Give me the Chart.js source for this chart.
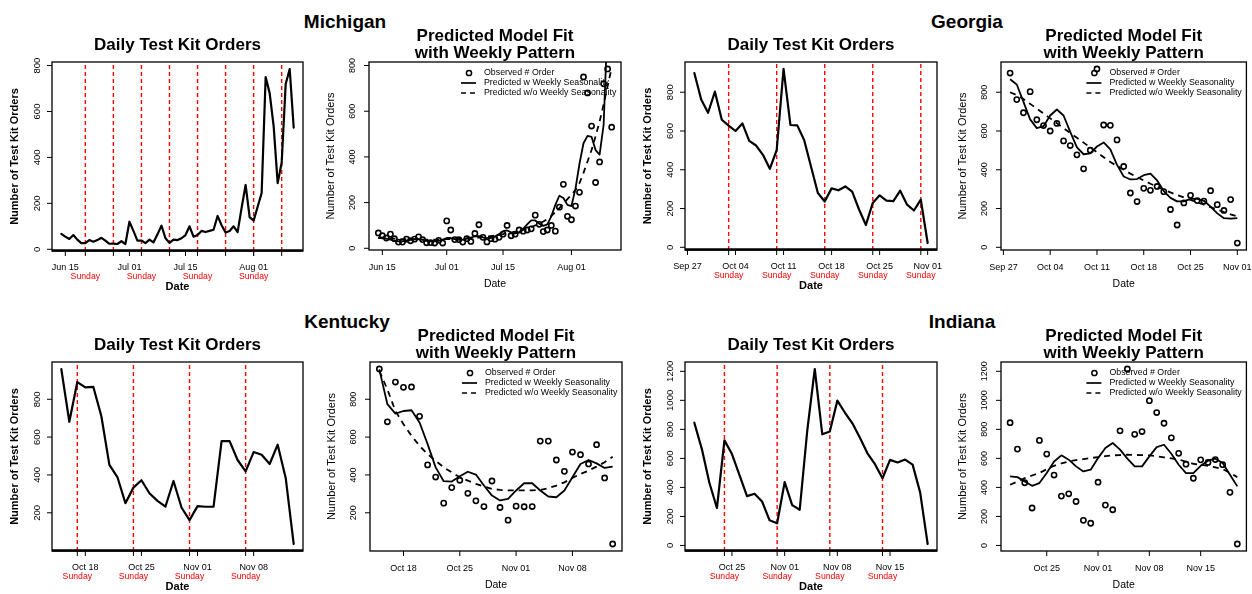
<!DOCTYPE html>
<html><head><meta charset="utf-8">
<script src="https://cdn.jsdelivr.net/npm/chart.js@4"></script>
<style>
html,body{margin:0;padding:0;background:#fff;width:1252px;height:594px;overflow:hidden;position:relative;}
canvas{position:absolute;left:0;top:0;}
.state{position:absolute;font:bold 19px "Liberation Sans",Arial,sans-serif;line-height:19px;color:#000;transform:translateX(-50%);white-space:nowrap;}
</style></head><body>
<div class="state" style="left:345px;top:12px">Michigan</div>
<div class="state" style="left:967px;top:12px">Georgia</div>
<div class="state" style="left:347px;top:312px">Kentucky</div>
<div class="state" style="left:962px;top:312px">Indiana</div>
<canvas id="p1" width="1252" height="594"></canvas>
<canvas id="p2" width="1252" height="594"></canvas>
<canvas id="p3" width="1252" height="594"></canvas>
<canvas id="p4" width="1252" height="594"></canvas>
<canvas id="p5" width="1252" height="594"></canvas>
<canvas id="p6" width="1252" height="594"></canvas>
<canvas id="p7" width="1252" height="594"></canvas>
<canvas id="p8" width="1252" height="594"></canvas>
<script>
// ---------------- DATA ----------------
// Michigan: daily values from 2021-06-14 to 2021-08-11
const miStart = '2021-06-14';
const miObserved = [67,55,45,62,42,27,27,40,33,40, 50,38,24,25,23,35,23,120,80,38, 38,27,42,30,65,103,48,28,42,40, 48,62,100,55,62,80,75,80,85,145, 105,73,80,100,75,180,280,140,125,185, 245,750,680,535,288,378,720,785,530];
const miPredWeekly = [45,48,42,38,33,30,30,33,37,40,40,37,32,30,30,33,38, 45,45,40,37,38,42,47,52,53,48,44,45,52,62,75,78,70,65,70,85,105,122,122,108,98,105,140,190,230,220,190, 185,260,370,460,492,488,430,410,540,1000,1150];
const miPredNoWeekly = [45,45,44,43,42,41,40,40,40,39,39,39,38,38,38,38,39, 40,40,41,42,43,44,45,46,47,49,51,53,56,59,62,66,68,72,76,81,86,93,100,108,117,128,142,158,176,195,215, 235,255,285,330,380,430,490,555,630,710,790];
const miTickDates = ['2021-06-15','2021-07-01','2021-07-15','2021-08-01'];
const miTickLabels = ['Jun 15','Jul 01','Jul 15','Aug 01'];
const miSundays = ['2021-06-20','2021-06-27','2021-07-04','2021-07-11','2021-07-18','2021-07-25','2021-08-01','2021-08-08'];
const miYTicks = [0,200,400,600,800];

// Georgia: 2021-09-28 to 2021-11-01
const gaStart = '2021-09-28';
const gaObserved = [899,762,694,803,658,628,600,639,549,525, 477,405,501,920,631,629,554,417,280,236, 304,294,314,287,195,115,229,268,241,238, 292,220,190,246,22];
const gaPredWeekly = [867,840,750,660,615,625,680,711,680,595, 515,480,485,520,541,505,425,365,350,352, 372,380,345,290,255,237,237,250,250,240, 210,175,150,148,150];
const gaPredNoWeekly = [800,785,765,740,715,690,665,640,615,590, 565,540,515,490,465,440,420,400,380,362, 345,328,312,297,283,270,257,245,232,220, 207,195,182,170,160];
const gaTickDates = ['2021-09-27','2021-10-04','2021-10-11','2021-10-18','2021-10-25','2021-11-01'];
const gaTickLabels = ['Sep 27','Oct 04','Oct 11','Oct 18','Oct 25','Nov 01'];
const gaSundays = ['2021-10-03','2021-10-10','2021-10-17','2021-10-24','2021-10-31'];
const gaYTicks = [0,200,400,600,800];

// Kentucky: 2021-10-15 to 2021-11-13
const kyStart = '2021-10-15';
const kyObserved = [960,681,891,863,865,710,453,389,251,333, 372,303,263,233,368,228,161,235,232,233, 579,579,479,419,521,507,458,560,384,35];
const kyPredWeekly = [958,774,724,738,742,677,563,440,367,365, 393,417,402,344,291,265,274,318,356,356, 318,286,282,318,388,458,479,461,437,444];
const kyPredNoWeekly = [950,852,738,668,607,554,510,475,440,414, 388,370,353,339,326,321,318,318,318,318, 321,330,344,361,384,405,423,444,467,496];
const kyTickDates = ['2021-10-18','2021-10-25','2021-11-01','2021-11-08'];
const kyTickLabels = ['Oct 18','Oct 25','Nov 01','Nov 08'];
const kySundays = ['2021-10-17','2021-10-24','2021-10-31','2021-11-07'];
const kyYTicks = [200,400,600,800];

// Indiana: 2021-10-20 to 2021-11-20
const inStart = '2021-10-20';
const inObserved = [846,664,432,258,724,630,485,340,356,303, 173,153,436,278,246,790,1216,766,785,998, 916,842,742,635,560,463,590,572,592,557, 366,10];
const inPredWeekly = [476,471,441,411,430,499,579,621,591,545, 510,522,602,671,706,660,598,545,545,614, 678,694,632,556,499,499,549,584,598,568, 487,407];
const inPredNoWeekly = [418,440,464,482,499,525,549,565,579,588, 595,602,609,615,621,623,625,624,622,621, 614,607,600,591,577,563,556,549,538,526, 500,471];
const inTickDates = ['2021-10-25','2021-11-01','2021-11-08','2021-11-15'];
const inTickLabels = ['Oct 25','Nov 01','Nov 08','Nov 15'];
const inSundays = ['2021-10-24','2021-10-31','2021-11-07','2021-11-14'];
const inYTicks = [0,200,400,600,800,1000,1200];

const legendLabels = ['Observed # Order','Predicted w Weekly Seasonality','Predicted w/o Weekly Seasonality'];
const dailyTitle = 'Daily Test Kit Orders';
const fitTitle = ['Predicted Model Fit','with Weekly Pattern'];
const yTitle = 'Number of Test Kit Orders';
const xTitle = 'Date';
const sundayLabel = 'Sunday';

// ---------------- HELPERS ----------------
const DAY = 86400000;
const FONT = '"Liberation Sans", Arial, Helvetica, sans-serif';
function dnum(s){ const p=s.split('-').map(Number); return Date.UTC(p[0],p[1]-1,p[2])/DAY; }
function series(start, vals){ const s=dnum(start); return vals.map((v,i)=>({x:s+i,y:v})); }

function decor(o){
  return {
    id:'decor',
    afterDatasetsDraw(chart){
      const c=chart.ctx, a=chart.chartArea, xs=chart.scales.x, ys=chart.scales.y;
      const L=a.left, R=a.right, T=a.top, B=a.bottom, cx=(L+R)/2, cy=(T+B)/2;
      const daily = o.kind==='daily';
      const seg=(x1,y1,x2,y2)=>{c.beginPath();c.moveTo(x1,y1);c.lineTo(x2,y2);c.stroke();};
      c.save();
      c.fillStyle='#000'; c.strokeStyle='#000'; c.setLineDash([]);
      // box
      c.lineWidth=1.3; c.strokeRect(L,T,R-L,B-T);
      if(daily){ c.lineWidth=2.5; seg(L,B-0.5,R,B-0.5); }
      // y ticks
      c.lineWidth=1;
      o.yTicks.forEach(v=>{
        const py=ys.getPixelForValue(v);
        seg(L-5,py,L,py);
        c.save(); c.translate(L-(daily?15:16), py); c.rotate(-Math.PI/2);
        c.font=(daily?'9.5px ':'9px ')+FONT; c.textAlign='center'; c.textBaseline='middle';
        c.fillText(String(v),0,0); c.restore();
      });
      // x ticks with date labels
      c.font='9px '+FONT; c.textAlign='center'; c.textBaseline='alphabetic';
      o.tickDates.forEach((d,i)=>{
        const px=xs.getPixelForValue(dnum(d));
        seg(px,B,px,B+5);
        c.fillText(o.tickLabels[i],px,B+(daily?19:20));
      });
      // Sunday ticks & labels
      if(daily){
        c.font='8.7px '+FONT; c.fillStyle='#ff0000';
        let lastRight=-1e9;
        o.sundays.forEach(d=>{
          const px=xs.getPixelForValue(dnum(d));
          c.strokeStyle='#000'; seg(px,B,px,B+5);
          const w=c.measureText(sundayLabel).width;
          if(px-w/2 >= lastRight+7){ c.fillText(sundayLabel,px,B+28); lastRight=px+w/2; }
        });
        c.fillStyle='#000';
      }
      // axis titles
      c.font=(daily?'bold 11px ':'10.5px ')+FONT; c.textAlign='center';
      c.fillText(xTitle,cx,B+(daily?39:37));
      c.save(); c.translate(L-(daily?37:38),cy); c.rotate(-Math.PI/2);
      c.font=(daily?'bold 11px ':'11px ')+FONT; c.textBaseline='middle';
      c.fillText(yTitle,0,0); c.restore();
      // panel title
      c.font='bold 17px '+FONT; c.textAlign='center'; c.textBaseline='alphabetic';
      if(daily){ c.fillText(dailyTitle,cx,T-12); }
      else { c.fillText(fitTitle[0],cx,T-21); c.fillText(fitTitle[1],cx,T-4); }
      // legend
      if(!daily){
        const sx=R-152, tx=R-137, r0=T+11, r1=T+21, r2=T+31;
        c.lineWidth=1.5; c.beginPath(); c.arc(sx,r0,2.6,0,Math.PI*2); c.stroke();
        c.lineWidth=1.7; seg(R-160,r1,R-145,r1);
        c.setLineDash([5,4]); seg(R-160,r2,R-145,r2); c.setLineDash([]);
        c.font='8.8px '+FONT; c.textAlign='left'; c.textBaseline='middle';
        c.fillText(legendLabels[0],tx,r0); c.fillText(legendLabels[1],tx,r1); c.fillText(legendLabels[2],tx,r2);
      }
      c.restore();
    }
  };
}

function panel(id, o){
  const W=1252, H=594;
  const x0=dnum(o.start), x1=x0+o.observed.length-1, xe=(x1-x0)*0.04;
  const mn=Math.min(...o.observed), mx=Math.max(...o.observed), ye=(mx-mn)*0.04;
  const ymin=mn-ye, ymax=mx+ye;
  const ds=[];
  if(o.kind==='daily'){
    ds.push({data:series(o.start,o.observed), showLine:true, borderColor:'#000', borderWidth:2.2,
      pointRadius:0, tension:0, borderJoinStyle:'round', borderCapStyle:'round'});
    o.sundays.forEach(s=>ds.push({data:[{x:dnum(s),y:ymin},{x:dnum(s),y:ymax}], showLine:true,
      borderColor:'#ff0000', borderWidth:1.4, borderDash:[4,3], pointRadius:0}));
  } else {
    ds.push({data:series(o.start,o.observed), showLine:false, pointStyle:'circle', pointRadius:2.6,
      pointBorderWidth:1.6, borderColor:'#000', pointBorderColor:'#000', backgroundColor:'rgba(0,0,0,0)', pointBackgroundColor:'rgba(0,0,0,0)'});
    ds.push({data:series(o.start,o.predW), showLine:true, borderColor:'#000', borderWidth:1.8,
      pointRadius:0, tension:0, borderJoinStyle:'round'});
    ds.push({data:series(o.start,o.predWo), showLine:true, borderColor:'#000', borderWidth:1.8,
      borderDash:[6,5], pointRadius:0, tension:0});
  }
  new Chart(document.getElementById(id), {
    type:'scatter',
    data:{datasets:ds},
    options:{
      responsive:false, animation:false, events:[],
      layout:{padding:{left:o.box[0], top:o.box[1], right:W-o.box[2], bottom:H-o.box[3]}},
      scales:{
        x:{type:'linear', min:x0-xe, max:x1+xe, display:false},
        y:{type:'linear', min:ymin, max:ymax, display:false}
      },
      plugins:{legend:{display:false}, tooltip:{enabled:false}, title:{display:false}}
    },
    plugins:[decor(o)]
  });
}

const mi={start:miStart, observed:miObserved, predW:miPredWeekly, predWo:miPredNoWeekly, tickDates:miTickDates, tickLabels:miTickLabels, sundays:miSundays, yTicks:miYTicks};
const ga={start:gaStart, observed:gaObserved, predW:gaPredWeekly, predWo:gaPredNoWeekly, tickDates:gaTickDates, tickLabels:gaTickLabels, sundays:gaSundays, yTicks:gaYTicks};
const ky={start:kyStart, observed:kyObserved, predW:kyPredWeekly, predWo:kyPredNoWeekly, tickDates:kyTickDates, tickLabels:kyTickLabels, sundays:kySundays, yTicks:kyYTicks};
const ind={start:inStart, observed:inObserved, predW:inPredWeekly, predWo:inPredNoWeekly, tickDates:inTickDates, tickLabels:inTickLabels, sundays:inSundays, yTicks:inYTicks};

panel('p1', Object.assign({kind:'daily', box:[52,62,303,251]}, mi));
panel('p2', Object.assign({kind:'fit',   box:[369,62,621,250]}, mi));
panel('p3', Object.assign({kind:'daily', box:[685,62,937,250]}, ga));
panel('p4', Object.assign({kind:'fit',   box:[1001,62,1251,250]}, ga));
panel('p5', Object.assign({kind:'daily', box:[52,362,303,551]}, ky));
panel('p6', Object.assign({kind:'fit',   box:[370,362,622,551]}, ky));
panel('p7', Object.assign({kind:'daily', box:[685,362,937,551]}, ind));
panel('p8', Object.assign({kind:'fit',   box:[1001,362,1251,551]}, ind));
</script>
</body></html>
